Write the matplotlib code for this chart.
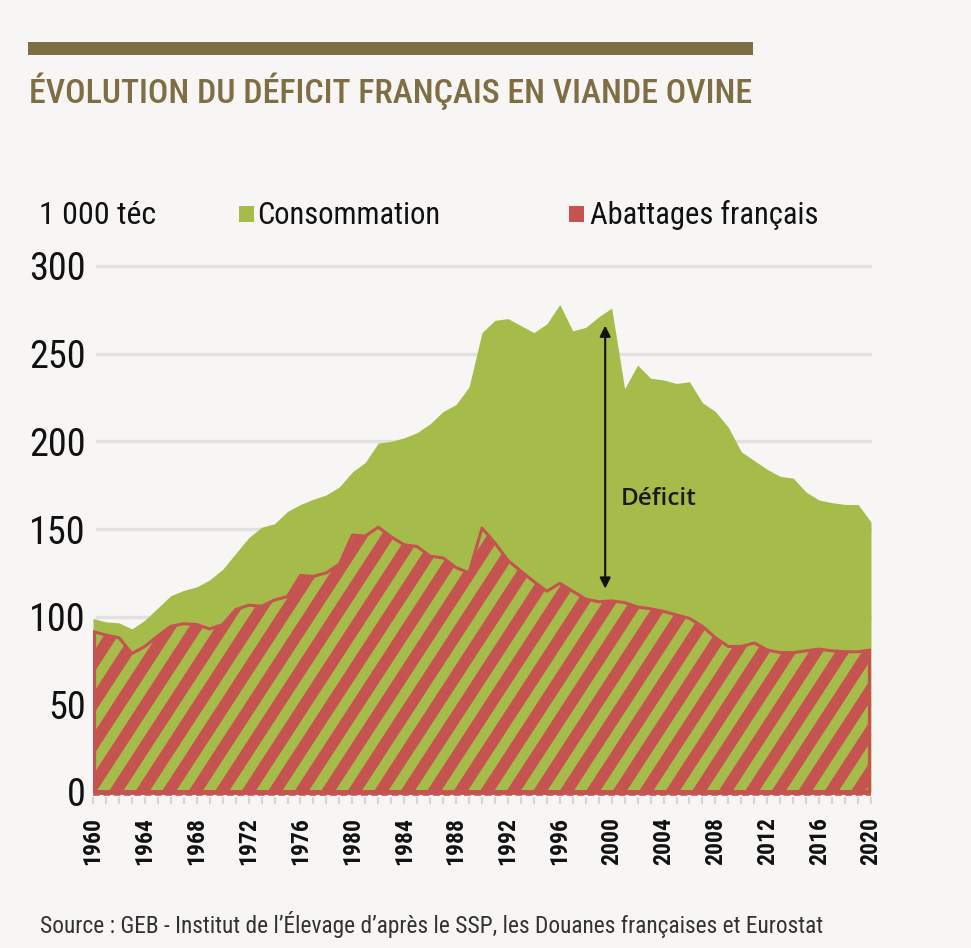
import numpy as np
import matplotlib
matplotlib.use('Agg')
import matplotlib.pyplot as plt
from matplotlib import font_manager
from matplotlib.patches import Rectangle
from matplotlib.collections import LineCollection

# ==========================================
# DATA (1 000 téc)
# ==========================================
years = list(range(1960, 2021))
consommation = [99, 97, 96.5, 93, 98, 105, 112, 115, 117, 121,
                127, 136, 145, 151, 153, 160, 164, 167, 169.5, 174,
                182.5, 188, 199, 200, 202, 205, 210, 217, 221, 231,
                262, 269, 270, 266, 262, 267, 278, 263, 265, 271,
                276, 230, 243.5, 236, 235, 233, 234, 222, 217, 208,
                194, 189, 184, 180, 179, 171, 166.5, 165, 164, 164,
                154]
abattages = [91.5, 89.5, 88, 79, 83, 89, 94.5, 96, 95.5, 93,
             95.5, 104, 106.5, 106, 109.5, 111.5, 123.5, 123, 125, 130,
             146.5, 146, 151, 145.5, 141, 140, 134.5, 133.5, 128, 125,
             150.5, 142, 132, 126, 120, 114.5, 119, 114.5, 110, 108.5,
             109, 108, 105.5, 104.5, 103, 101, 99, 94.5, 88, 83,
             83, 85, 81, 79.5, 79.5, 80.5, 81.5, 80.5, 80, 80,
             81]
y_ticks = [0, 50, 100, 150, 200, 250, 300]
x_ticks = list(range(1960, 2021, 4))
deficit_year = 1999.5

# ==========================================
# STYLE
# ==========================================
GREEN = '#a5bb4a'
RED = '#c55451'
BG = '#f7f6f4'
BROWN = '#7f6d43'
GRID = '#e2e1df'

available = {f.name for f in font_manager.fontManager.ttflist}
narrow = 'DejaVu Sans'
for cand in ['Roboto Condensed', 'Liberation Sans Narrow', 'Open Sans Condensed', 'Liberation Sans']:
    if cand in available:
        narrow = cand
        break
plt.rcParams['font.family'] = [narrow, 'DejaVu Sans']

W, H = 971, 948
fig = plt.figure(figsize=(W / 100, H / 100), dpi=100, facecolor=BG)


def fx(px):
    return px / W


def fy(py):
    return 1 - py / H


# axes placed so 1960 -> x=93, 2020 -> x=871, 0 -> y=792, 300 -> y=266
ylo, yhi = -3, 303
ppu = (792 - 266) / 300.0
bottom_px = 792 + (0 - ylo) * ppu
top_px = 266 - (yhi - 300) * ppu
ax = fig.add_axes([fx(93), fy(bottom_px), fx(871) - fx(93), (bottom_px - top_px) / H])
ax.set_facecolor('none')
ax.set_xlim(1960, 2020)
ax.set_ylim(ylo, yhi)
for s in ax.spines.values():
    s.set_visible(False)

# grid
for v in y_ticks[1:]:
    ax.axhline(v, xmin=0.005, xmax=0.999, color=GRID, lw=2.4, zorder=0, clip_on=False)

# consumption area
ax.fill_between(years, 0, consommation, color=GREEN, lw=0, zorder=1)

# slaughter area: outline + diagonal stripes clipped to it
poly = ax.fill_between(years, 0, abattages, facecolor='none', edgecolor=RED, lw=2.2, zorder=3)
clip = poly.get_paths()[0]

ax_wpx = 871 - 93
ax_hpx = bottom_px - top_px
ang = np.deg2rad(57)
run = ax_hpx / np.tan(ang)
segs = []
for c in np.arange(-run - 30, ax_wpx + 30, 26.5):
    segs.append([(c / ax_wpx, 0), ((c + run) / ax_wpx, 1)])
stripes = LineCollection(segs, colors=RED, linewidths=8.5, transform=ax.transAxes, zorder=2)
stripes.set_clip_path(clip, ax.transData)
ax.add_collection(stripes)

ax.vlines([years[0], years[-1]], 0, [abattages[0], abattages[-1]], color=RED, lw=4.5, zorder=4)
ax.hlines(0, years[0], years[-1], color=RED, lw=3.5, zorder=4)
ax.axhline(-1.9, color=RED, lw=1.4, ls=(0, (3.5, 1.8)), zorder=4, alpha=0.8, clip_on=False)

# deficit arrow
ax.annotate('', xy=(deficit_year, consommation[years.index(2000)] - 10),
            xytext=(deficit_year, abattages[years.index(2000)] + 7),
            arrowprops=dict(arrowstyle='<|-|>', color='#111111', lw=1.5,
                            mutation_scale=16, shrinkA=0, shrinkB=0), zorder=5)
ax.text(2003.6, 167, 'Déficit', ha='center', va='center', fontsize=17.5,
        family=['Open Sans', 'DejaVu Sans'], fontweight='semibold', color='#1a1a1a', zorder=5)

# ticks
ax.set_yticks(y_ticks)
ax.set_yticklabels([str(v) for v in y_ticks])
ax.tick_params(axis='y', length=0, pad=5, labelsize=27.5, labelcolor='#111111')
ax.set_xticks(x_ticks)
ax.set_xticklabels([str(v) for v in x_ticks], rotation=90, fontweight='bold')
ax.set_xticks(years, minor=True)
ax.tick_params(axis='x', which='both', length=5, width=1.6, color='#d6d6d6', direction='out',
               pad=9, labelsize=17, labelcolor='#111111')

# ==========================================
# TITLE, LEGEND, SOURCE
# ==========================================
fig.add_artist(Rectangle((fx(28), fy(55)), fx(753) - fx(28), (55 - 42) / H,
                         transform=fig.transFigure, color=BROWN, lw=0))
fig.text(fx(29), fy(103), 'ÉVOLUTION DU DÉFICIT FRANÇAIS EN VIANDE OVINE',
         fontsize=24.4, fontweight='medium', color=BROWN, ha='left', va='baseline')

fig.text(fx(39), fy(224), '1 000 téc', fontsize=23, color='#111111', ha='left', va='baseline')
fig.add_artist(Rectangle((fx(239), fy(222)), 15 / W, 16 / H, transform=fig.transFigure, color=GREEN, lw=0))
fig.text(fx(257), fy(224), 'Consommation', fontsize=22, color='#111111', ha='left', va='baseline')
fig.add_artist(Rectangle((fx(569), fy(222)), 15 / W, 16 / H, transform=fig.transFigure, color=RED, lw=0))
fig.text(fx(590), fy(224), 'Abattages français', fontsize=22, color='#111111', ha='left', va='baseline')

fig.text(fx(40), fy(933), "Source : GEB - Institut de l\u2019Élevage d\u2019après le SSP, les Douanes françaises et Eurostat",
         fontsize=16.8, color='#333333', ha='left', va='baseline')

fig.savefig('out.png', dpi=100, facecolor=BG)
